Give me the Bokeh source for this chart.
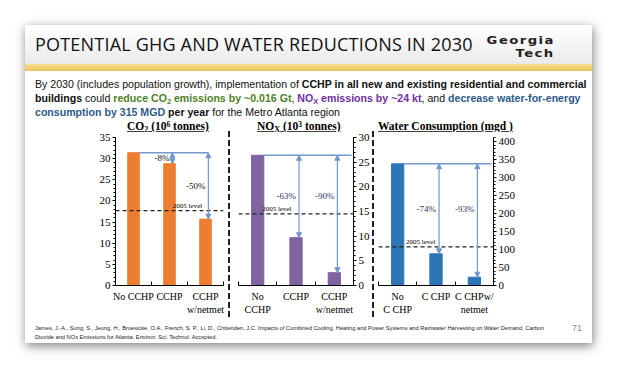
from bokeh.plotting import figure
from bokeh.models import Range1d, FixedTicker, SingleIntervalTicker, Span, Arrow, NormalHead, Div, ColumnDataSource
from bokeh.layouts import row, column
from bokeh.embed import file_html
from bokeh.resources import INLINE
from bokeh.core.properties import value

# ---------------- data ----------------
co2_categories = ["No CCHP", "CCHP", "CCHP\nw/netmet"]
nox_categories = ["No\nCCHP", "CCHP", "CCHP\nw/netmet"]
water_categories = ["No\nC CHP", "C CHP", "C CHPw/\nnetmet"]

co2_values = [31.4, 28.8, 15.7]      # 10^6 tonnes
nox_values = [26.4, 9.7, 2.6]        # 10^3 tonnes
water_values = [338, 88, 23]         # mgd

co2_level_2005 = 17.7
nox_level_2005 = 14.5
water_level_2005 = 107

co2_changes = ["-8%", "-50%"]
nox_changes = ["-63%", "-90%"]
water_changes = ["-74%", "-93%"]
level_label = "2005 level"

co2_axis_max = 35
nox_axis_max = 30
water_axis_max = 411
co2_tick_step = 5
nox_tick_step = 5
water_tick_step = 50

# ---------------- styles ----------------
SERIF = "Liberation Serif"
ARROW_COLOR = "#7398CE"


def make_chart(cats, vals, level, changes, bar_color, y_end, step, side, width, bl, br,
               note_color, level_slot, shared_label_y, line_to_edge):
    n = len(cats)
    centers = [i + 0.5 for i in range(n)]
    p = figure(width=width, height=187, x_range=Range1d(0, n), y_range=Range1d(0, y_end),
               y_axis_location=side, output_backend="svg", toolbar_location=None,
               min_border_left=bl, min_border_right=br, min_border_top=6, min_border_bottom=33)
    p.margin = 0
    p.xgrid.visible = False
    p.ygrid.visible = False
    p.outline_line_color = None
    p.background_fill_color = "white"
    p.border_fill_color = "white"

    xa = p.xaxis[0]
    xa.ticker = FixedTicker(ticks=centers, minor_ticks=list(range(0, n + 1)))
    xa.major_label_overrides = {c: lab for c, lab in zip(centers, cats)}
    xa.major_tick_line_color = None
    xa.major_tick_in = 0
    xa.major_tick_out = 0
    xa.minor_tick_in = 4
    xa.minor_tick_out = 0
    xa.minor_tick_line_color = "black"
    xa.axis_line_color = "black"
    xa.major_label_text_font = SERIF
    xa.major_label_text_font_size = "10px"
    xa.major_label_text_color = "black"
    xa.major_label_standoff = 5

    ya = p.yaxis[0]
    ya.ticker = SingleIntervalTicker(interval=step, num_minor_ticks=5)
    ya.major_tick_out = 3
    ya.major_tick_in = 0
    ya.minor_tick_out = 2
    ya.minor_tick_in = 0
    ya.axis_line_color = "black"
    ya.major_tick_line_color = "black"
    ya.minor_tick_line_color = "black"
    ya.major_label_text_font = SERIF
    ya.major_label_text_font_size = "11px"
    ya.major_label_text_color = "black"
    ya.major_label_standoff = 2

    src = ColumnDataSource(dict(x=centers, top=vals))
    p.vbar(x="x", top="top", width=0.32, source=src, fill_color=bar_color, line_color=bar_color)

    p.add_layout(Span(location=level, dimension="width", line_color="#222222",
                      line_dash="4 3", line_width=1.2))
    p.text(x=[level_slot], y=[level], text=[level_label], text_font=value(SERIF),
           text_font_size="7px", text_align="center", text_baseline="bottom",
           y_offset=-1, text_color="black")

    arrow_x = [centers[i] + 0.08 for i in range(1, n)]
    x_end = (n - 0.05) if line_to_edge else arrow_x[-1]
    p.segment(x0=[centers[0] + 0.16], y0=[vals[0]], x1=[x_end], y1=[vals[0]],
              line_color=ARROW_COLOR, line_width=1.5)
    for i, ax in zip(range(1, n), arrow_x):
        p.add_layout(Arrow(x_start=ax, y_start=vals[0], x_end=ax, y_end=vals[i],
                           start=NormalHead(size=5, fill_color=ARROW_COLOR, line_color=ARROW_COLOR),
                           end=NormalHead(size=5, fill_color=ARROW_COLOR, line_color=ARROW_COLOR),
                           line_color=ARROW_COLOR, line_width=1.2))
    if shared_label_y:
        label_y = [(vals[0] + vals[1]) / 2] * (n - 1)
    else:
        label_y = [(vals[0] + vals[i]) / 2 for i in range(1, n)]
    p.text(x=arrow_x, y=label_y, text=changes, text_font=value(SERIF), text_font_size="9px",
           text_color=note_color, text_align="right", text_baseline="middle", x_offset=-3)
    return p


co2_fig = make_chart(co2_categories, co2_values, co2_level_2005, co2_changes, "#ED7D31",
                     co2_axis_max, co2_tick_step, "left", 203, 90, 5, "#111111", 2, False, False)
nox_fig = make_chart(nox_categories, nox_values, nox_level_2005, nox_changes, "#8064A2",
                     nox_axis_max, nox_tick_step, "right", 140, 6, 19, "#1F3864", 1, True, True)
water_fig = make_chart(water_categories, water_values, water_level_2005, water_changes, "#2E75B6",
                       water_axis_max, water_tick_step, "right", 216, 2, 99, "#1F3864", 1.1, True, True)


def separator():
    return Div(text='<div style="width:2px;height:187px;background:repeating-linear-gradient('
                    'to bottom,#222 0px,#222 6px,transparent 6px,transparent 9px)"></div>',
               width=4, height=187, margin=0)


SUB = 'style="font-size:70%;line-height:0;vertical-align:-0.25em"'
SUP = 'style="font-size:65%;line-height:0;vertical-align:0.45em"'
GREEN = "#4F7F2A"
PURPLE = "#7030A0"
BLUE = "#2E5A8C"

para = (
    'By 2030 (includes population growth), implementation of '
    '<b>CCHP in all new and existing residential and commercial</b><br>'
    f'<b>buildings</b> could <b style="color:{GREEN}">reduce CO<sub {SUB}>2</sub> emissions by ~0.016 Gt</b>, '
    f'<b style="color:{PURPLE}">NO<sub {SUB}>X</sub> emissions by ~24 kt</b>, and '
    f'<b style="color:{BLUE}">decrease water-for-energy</b><br>'
    f'<b style="color:{BLUE}">consumption by 315 MGD</b> <b>per year</b> for the Metro Atlanta region'
)

TITLE_CSS = ("position:absolute;top:95px;font-family:'Liberation Serif';font-weight:bold;"
             "font-size:11.5px;line-height:12px;text-decoration:underline;white-space:nowrap;color:#000")
LOGO_CSS = ("position:absolute;right:37px;font-family:'DejaVu Sans';font-weight:bold;font-size:11px;"
            "line-height:11px;letter-spacing:1.2px;color:#222;text-align:right;white-space:nowrap;"
            "transform:scaleX(1.2);transform-origin:right center")

header_html = f'''
<div style="position:relative;width:567px;height:106px;">
 <div style="position:absolute;left:0;top:0;width:567px;height:39px;background:linear-gradient(#ffffff,#f3f3f3 60%,#e9e9e9)"></div>
 <div style="position:absolute;left:0;top:39px;width:567px;height:7px;background:linear-gradient(#f8df96,#edc258)"></div>
 <div style="position:absolute;left:10px;top:10px;font-family:'Open Sans';font-size:18px;line-height:18px;letter-spacing:0.2px;color:#111;white-space:nowrap">POTENTIAL GHG AND WATER REDUCTIONS IN 2030</div>
 <div style="{LOGO_CSS};top:10px">Georgia</div>
 <div style="{LOGO_CSS};top:23px">Tech</div>
 <div style="position:absolute;left:10px;top:53px;font-family:'Liberation Sans';font-size:10.6px;line-height:13.8px;color:#111;white-space:nowrap">{para}</div>
 <div style="{TITLE_CSS};left:102px">CO<sub {SUB}>2</sub> (10<sup {SUP}>6</sup> tonnes)</div>
 <div style="{TITLE_CSS};left:232px">NO<sub {SUB}>X</sub> (10<sup {SUP}>3</sup> tonnes)</div>
 <div style="{TITLE_CSS};left:353px">Water Consumption (mgd )</div>
</div>
'''
header = Div(text=header_html, width=567, height=106, margin=0)

citation = ("James, J.-A., Sung, S., Jeong, H., Broesicke, O.A., French, S. P., Li, D., Crittenden, J.C. "
            "Impacts of Combined Cooling, Heating and Power Systems and Rainwater Harvesting on Water Demand, Carbon<br>"
            "Dioxide and NOx Emissions for Atlanta. Environ. Sci. Technol. Accepted.")
footer_html = f'''
<div style="position:relative;width:567px;height:25px;">
 <div style="position:absolute;left:10px;top:6px;font-family:'Liberation Sans';font-size:5.7px;line-height:8.5px;color:#222;white-space:nowrap">{citation}</div>
 <div style="position:absolute;left:547px;top:5px;font-family:'Liberation Sans';font-size:9px;line-height:10px;color:#888">71</div>
</div>
'''
footer = Div(text=footer_html, width=567, height=25, margin=0)

charts = row(co2_fig, separator(), nox_fig, separator(), water_fig, margin=0)
slide = column(header, charts, footer, margin=(25, 0, 0, 25),
               styles={"box-shadow": "1px 3px 10px rgba(0,0,0,0.5)", "background-color": "white"})

open("out.html", "w").write(file_html(slide, INLINE, title="Potential GHG and water reductions"))
